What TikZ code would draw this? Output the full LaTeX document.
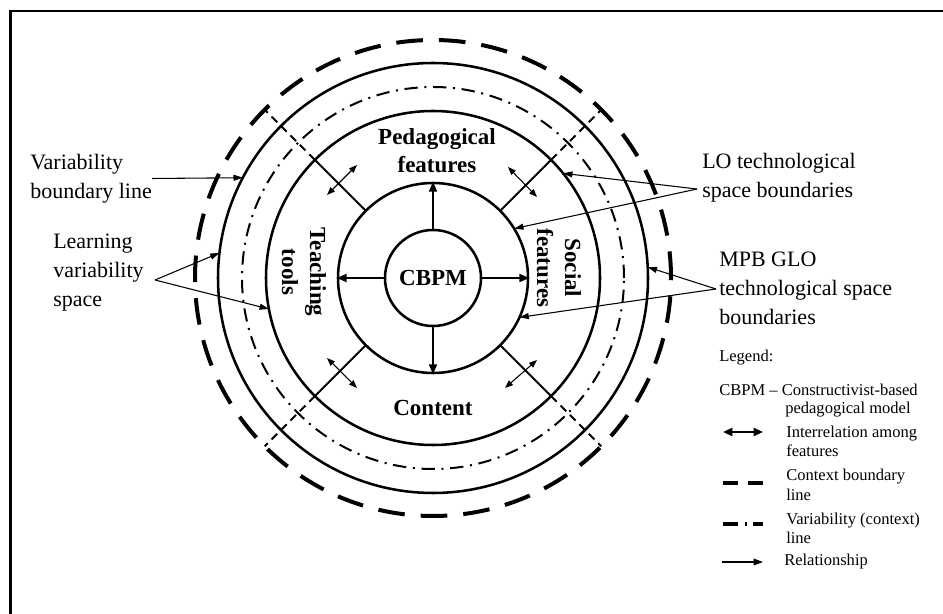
\documentclass[tikz,border=0pt]{standalone}
\usepackage{fontspec}
\setmainfont{Liberation Serif}
\usetikzlibrary{arrows.meta,calc}

\begin{document}
\begin{tikzpicture}[x=0.75pt,y=0.75pt,
    ring/.style={line width=1.9pt},
    ctxline/.style={line width=3pt,dash pattern=on 20pt off 12pt},
    varline/.style={line width=1.5pt,dash pattern=on 10pt off 5pt on 1.5pt off 5pt},
    spoke/.style={line width=1.5pt},
    spokeout/.style={line width=1.5pt,dash pattern=on 6pt off 4pt},
    inner/.style={line width=1.5pt,-{Triangle[length=7.5pt,width=6pt]}},
    inter/.style={line width=0.8pt,{Triangle[length=6pt,width=4.5pt]}-{Triangle[length=6pt,width=4.5pt]}},
    rel/.style={line width=0.8pt,-{Triangle[length=7pt,width=4.5pt]}},
    lbl/.style={font=\fontsize{16.5}{21.75}\selectfont,align=left,anchor=west,inner sep=0pt},
    zone/.style={font=\fontsize{17.25}{21}\selectfont\bfseries,align=center,inner sep=0pt},
    leg/.style={font=\fontsize{12.4}{14.6}\selectfont,align=left,anchor=west,inner sep=0pt}]

  \useasboundingbox (0,0) rectangle (943,614);
  \draw[line width=1.7pt] (10.5,0) -- (10.5,603) -- (943,603);

  % rings round the model
  \coordinate (c) at (433,336);
  \node[circle,draw,ring,minimum size=72pt,inner sep=0pt,
        font=\fontsize{17.25}{21}\selectfont\bfseries] (cbpm) at (c) {CBPM};
  \node[circle,draw,ring,minimum size=142.5pt] (core) at (c) {};
  \draw[ring] (c) circle[radius=167];
  \draw[varline] (c) circle[radius=191];
  \draw[ring] (c) circle[radius=215];
  \draw[ctxline] (c) circle[radius=238];

  \foreach \a in {45,135,225,315}{
    \draw[spoke] ($(c)+(\a:95)$) -- ($(c)+(\a:167)$);
    \draw[spokeout] ($(c)+(\a:167)$) -- ($(c)+(\a:238)$);
  }
  \foreach \d in {north,south,east,west}
    \draw[inner] (cbpm.\d) -- (core.\d);

  \draw[inter] (327,419) -- (357,449);
  \draw[inter] (508,447) -- (537,417);
  \draw[inter] (327,256) -- (357,226);
  \draw[inter] (505,226) -- (537,254);

  \node[zone] (ped) at (437,463) {Pedagogical\\features};
  \node[zone] (cont) at (433,206) {Content};
  \node[zone,rotate=-90] (teach) at (304,342) {Teaching\\tools};
  \node[zone,rotate=-90] (soc) at (559,346) {Social\\features};

  % outside labels
  \node[lbl] (varb) at (30,435.5) {Variability\\boundary line};
  \node[lbl] (lvs) at (53,341) {Learning\\variability\\space};
  \node[lbl] (lot) at (702,436.5) {LO technological\\space boundaries};
  \node[lbl] (mpb) at (719,326) {MPB GLO\\technological space\\boundaries};

  \coordinate (vbl) at ($(c)+(152.2:215)$);
  \coordinate (lvsP) at (155,334);
  \coordinate (lvs1) at ($(c)+(173.3:215)$);
  \coordinate (lvs2) at ($(c)+(190.7:167)$);
  \coordinate (lotP) at (697,425);
  \coordinate (lot1) at ($(c)+(38.8:167)$);
  \coordinate (lot2) at ($(c)+(31.3:95)$);
  \coordinate (mpbP) at (716,325);
  \coordinate (mpb1) at ($(c)+(2.9:215)$);
  \coordinate (mpb2) at ($(c)+(-24.5:95)$);

  \draw[rel] (varb.east) -- (vbl);
  \draw[rel] (lvsP) -- (lvs1);
  \draw[rel] (lvsP) -- (lvs2);
  \draw[rel] (lotP) -- (lot1);
  \draw[rel] (lotP) -- (lot2);
  \draw[rel] (mpbP) -- (mpb1);
  \draw[rel] (mpbP) -- (mpb2);

  % legend
  \node[leg] (legT) at (719,256) {Legend:};
  \node[leg] (legC) at (719,224) {CBPM – Constructivist-based};
  \node[leg] (legC2) at (785,204) {pedagogical model};
  \coordinate (li1) at (723,182); \coordinate (li2) at (763,182);
  \draw[line width=1.5pt,{Triangle[length=7pt,width=6pt]}-{Triangle[length=7pt,width=6pt]}] (li1) -- (li2);
  \node[leg] (legI) at (786,172.5) {Interrelation among\\features};
  \coordinate (ld1) at (723,131); \coordinate (ld2) at (763,131);
  \draw[line width=3pt,dash pattern=on 11.25pt off 7.5pt] (ld1) -- (ld2);
  \node[leg] (legD) at (786,129) {Context boundary\\line};
  \coordinate (lv1) at (723,90); \coordinate (lv2) at (763,90);
  \draw[line width=3pt,dash pattern=on 11.25pt off 5pt on 1.5pt off 5pt] (lv1) -- (lv2);
  \node[leg] (legV) at (786,85.5) {Variability (context)\\line};
  \coordinate (lr1) at (722,52); \coordinate (lr2) at (763,52);
  \draw[line width=0.8pt,-{Triangle[length=7pt,width=5pt]}] (lr1) -- (lr2);
  \node[leg] (legR) at (784,52) {Relationship};
\end{tikzpicture}
\end{document}
